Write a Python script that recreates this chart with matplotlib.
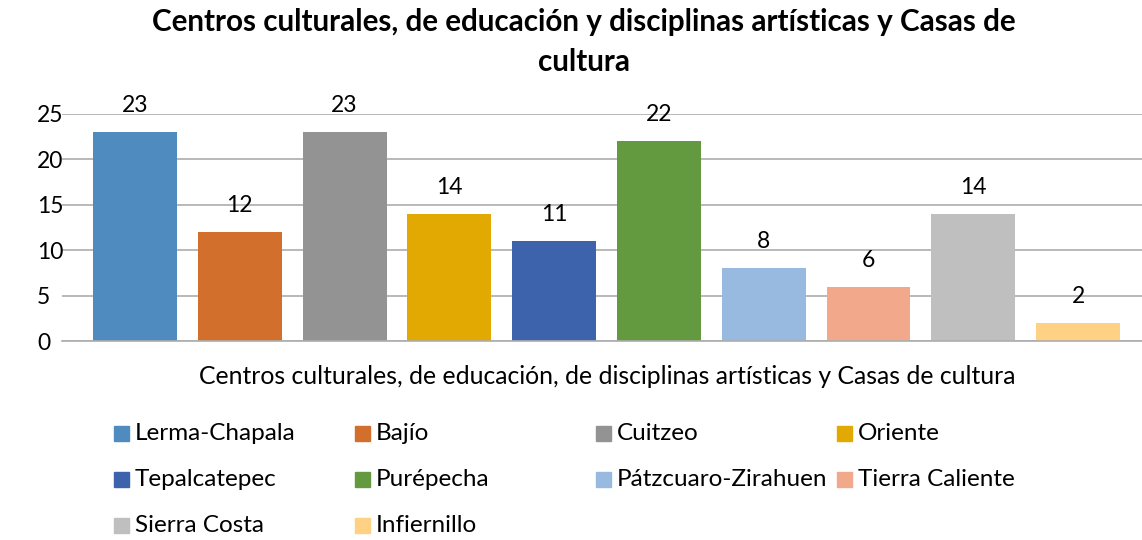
import matplotlib
matplotlib.use("Agg")
import matplotlib.pyplot as plt
from matplotlib.patches import Rectangle

plt.rcParams['font.family'] = ['Lato', 'DejaVu Sans']

regions = ["Lerma-Chapala", "Bajío", "Cuitzeo", "Oriente", "Tepalcatepec",
           "Purépecha", "Pátzcuaro-Zirahuen", "Tierra Caliente", "Sierra Costa", "Infiernillo"]
values = [23, 12, 23, 14, 11, 22, 8, 6, 14, 2]
colors = ["#4F8BBE", "#D36F2C", "#939393", "#E1A901", "#3D63AC",
          "#639A3F", "#99BAE0", "#F2A88B", "#BFBFBF", "#FED184"]
yticks = [0, 5, 10, 15, 20, 25]
title_lines = ["Centros culturales, de educación y disciplinas artísticas y Casas de", "cultura"]
xlabel = "Centros culturales, de educación, de disciplinas artísticas y Casas de cultura"

W, H = 1142, 540
fig = plt.figure(figsize=(W / 100, H / 100), dpi=100)
ax = fig.add_axes([62 / W, (H - 341) / H, (1142 - 62) / W, (341 - 114) / H])

pos = list(range(len(values)))
ax.bar(pos, values, width=0.80, color=colors, zorder=3)
for p, v in zip(pos, values):
    ax.annotate(str(v), (p, v), xytext=(0, 11.5), textcoords="offset points",
                ha="center", va="bottom", fontsize=16.5, color="#000000")

ax.set_xlim(-0.697, 9.61)
ax.set_ylim(0, 25)
ax.set_yticks(yticks)
ax.set_xticks([])
ax.tick_params(axis="y", length=0, labelsize=16.5, pad=18)
for lab in ax.get_yticklabels():
    lab.set_horizontalalignment("left")
ax.yaxis.grid(True, color="#ADADAD", linewidth=1.2, zorder=0)
for s in ["top", "right", "left"]:
    ax.spines[s].set_visible(False)
ax.spines["bottom"].set_color("#ADADAD")
ax.spines["bottom"].set_linewidth(1.2)
ax.spines["bottom"].set_zorder(4)

for ty, line in zip([22, 62], title_lines):
    fig.text(584 / W, 1 - ty / H, line, ha="center", va="center", fontsize=21.3,
             fontweight="bold")
fig.text(607 / W, 1 - 377 / H, xlabel, ha="center", va="center", fontsize=17.8)

col_x = [114, 355, 596, 837]
row_y = [433, 479, 525]
sq = 15
for i, (name, c) in enumerate(zip(regions, colors)):
    r, cidx = divmod(i, 4)
    x0, yc = col_x[cidx], row_y[r]
    fig.patches.append(Rectangle((x0 / W, 1 - (yc + sq / 2) / H), sq / W, sq / H,
                                 transform=fig.transFigure, color=c, figure=fig))
    fig.text((x0 + 21) / W, 1 - yc / H, name, ha="left", va="center", fontsize=17.5)

fig.savefig("out.png", dpi=100)
